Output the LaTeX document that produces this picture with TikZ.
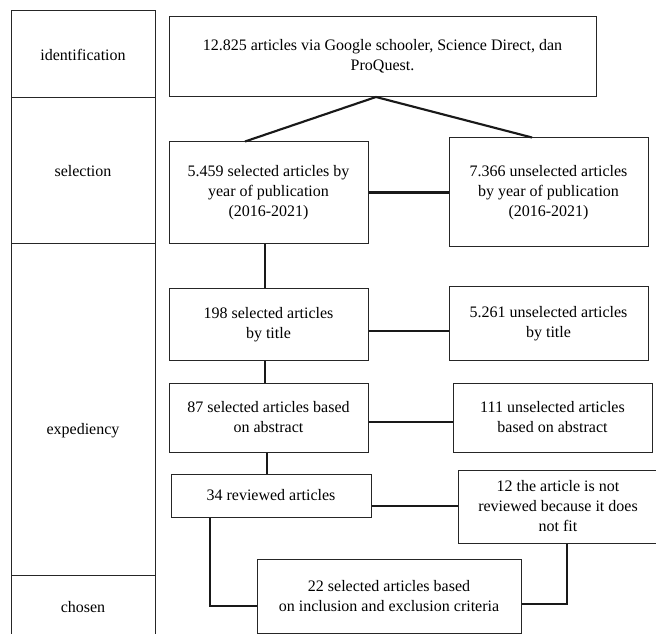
\documentclass[tikz,border=0pt]{standalone}
\usepackage{fontspec}
\setmainfont{Liberation Serif}
\begin{document}
\begin{tikzpicture}[x=0.75pt,y=-0.75pt,
  box/.style={draw=black!85,line width=0.75pt,rectangle,align=center,inner sep=0pt,
    font=\fontsize{12}{15}\selectfont},
  conn/.style={draw=black!90,line width=1.6pt},
  stage/.style={font=\fontsize{12}{15}\selectfont,align=center},
  col/.style={draw=black!85,line width=0.75pt}]
\useasboundingbox (0,0) rectangle (656,634);
\clip (0,0) rectangle (656,634);
% left column
\draw[col] (11,640) -- (11,11) -- (155,11) -- (155,640);
\draw[col] (11,98) -- (155,98);
\draw[col] (11,244) -- (155,244);
\draw[col] (11,575) -- (155,575);
\node[stage] (s1) at (83,55) {identification};
\node[stage] (s2) at (83,171) {selection};
\node[stage] (s3) at (83,431) {expediency};
\node[stage] (s4) at (83,607) {chosen};
% boxes
\node[box,minimum width=320.25pt,minimum height=60pt] (A) at (382.5,56.5)
  {12.825 articles via Google schooler, Science Direct, dan\\ProQuest.};
\node[box,minimum width=149.25pt,minimum height=76.5pt] (B) at (268.5,193)
  {5.459 selected articles by\\year of publication\\(2016-2021)};
\node[box,minimum width=149.25pt,minimum height=81.75pt] (C) at (548.5,192.5)
  {7.366 unselected articles\\by year of publication\\(2016-2021)};
\node[box,minimum width=149.25pt,minimum height=53.25pt] (D) at (268.5,324.5)
  {198 selected articles\\by title};
\node[box,minimum width=149.25pt,minimum height=54.75pt] (E) at (548.5,323.5)
  {5.261 unselected articles\\by title};
\node[box,minimum width=149.25pt,minimum height=51.75pt] (F) at (268.5,417.5)
  {87 selected articles based\\on abstract};
\node[box,minimum width=149.25pt,minimum height=51.75pt] (G) at (552.5,417.5)
  {111 unselected articles\\based on abstract};
\node[box,minimum width=150pt,minimum height=32.25pt] (H) at (271,495.5)
  {34 reviewed articles};
\node[box,minimum width=150pt,minimum height=54.75pt] (I) at (558,506.5)
  {12 the article is not\\reviewed because it does\\not fit};
\node[box,minimum width=198pt,minimum height=55.5pt] (J) at (389,596)
  {22 selected articles based\\on inclusion and exclusion criteria};
% connectors
\coordinate (apex) at (376,97);
\draw[conn] ([xshift=-17.625pt]B.north) -- (apex) -- ([xshift=-12.375pt]C.north);
\draw[conn] ([yshift=0.375pt]B.east) -- ([yshift=0.375pt]B.east -| C.west);
\draw[conn] ([xshift=-2.625pt]B.south) -- ([xshift=-2.625pt]D.north);
\draw[conn] ([yshift=-4.875pt]D.east) -- ([yshift=-4.875pt]D.east -| E.west);
\draw[conn] ([xshift=-2.625pt]D.south) -- ([xshift=-2.625pt]F.north);
\draw[conn] ([yshift=-3.375pt]F.east) -- ([yshift=-3.375pt]F.east -| G.west);
\draw[conn] ([xshift=-1.125pt]F.south) -- ([xshift=-1.125pt]F.south |- H.north);
\draw[conn] ([yshift=-7.875pt]H.east) -- ([yshift=-7.875pt]H.east -| I.west);
\draw[conn] ([xshift=-45.75pt]H.south) |- ([yshift=-7.5pt]J.west);
\draw[conn] ([xshift=6.75pt]I.south) |- ([yshift=-6pt]J.east);
\end{tikzpicture}
\end{document}
